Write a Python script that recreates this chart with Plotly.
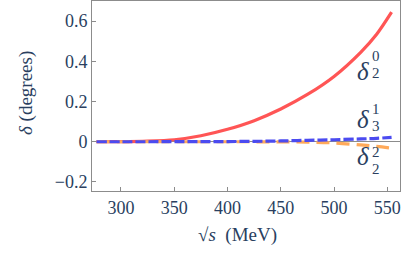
import plotly.graph_objects as go

energy = [277, 300, 325, 350, 375, 400, 425, 450, 475, 500, 525, 540, 554]
delta20 = [0.0, 0.0005, 0.003, 0.010, 0.030, 0.062, 0.105, 0.163, 0.235, 0.325, 0.445, 0.535, 0.645]
delta31 = [0.0, 0.0, 0.0, 0.0003, 0.0006, 0.001, 0.002, 0.004, 0.007, 0.010, 0.014, 0.017, 0.022]
delta22 = [0.0, 0.0, 0.0, 0.0, 0.0, 0.0, -0.0002, -0.0006, -0.002, -0.006, -0.016, -0.023, -0.032]

xticks = [300, 350, 400, 450, 500, 550]
yticks = [-0.2, 0, 0.2, 0.4, 0.6]
yticktext = ["\u22120.2", "0", "0.2", "0.4", "0.6"]

FONT = "serif"
GRAY = "#8c8c8c"

fig = go.Figure()
fig.add_trace(go.Scatter(x=energy, y=delta20, mode="lines", line=dict(color="rgb(255,85,85)", width=3.2, shape="spline", smoothing=0.8), hoverinfo="skip"))
fig.add_trace(go.Scatter(x=energy, y=delta22, mode="lines", line=dict(color="rgb(255,170,90)", width=3.2, dash="13px,7px", shape="spline"), hoverinfo="skip"))
fig.add_trace(go.Scatter(x=energy, y=delta31, mode="lines", line=dict(color="rgb(75,75,240)", width=3.2, dash="10px,3px", shape="spline"), hoverinfo="skip"))

fig.update_layout(
    width=407, height=266,
    margin=dict(l=92, r=7, t=1, b=75),
    paper_bgcolor="white", plot_bgcolor="white",
    showlegend=False,
    xaxis=dict(range=[272.8, 561.9], tickvals=xticks, ticks="inside", ticklen=4, tickcolor=GRAY,
               showline=True, linecolor=GRAY, linewidth=1, mirror=True, showgrid=False, zeroline=False,
               automargin=False, tickfont=dict(family=FONT, size=18)),
    yaxis=dict(range=[-0.245, 0.7], tickvals=yticks, ticktext=yticktext, ticks="inside", ticklen=4, tickcolor=GRAY,
               showline=True, linecolor=GRAY, linewidth=1, mirror=True, showgrid=False,
               zeroline=True, zerolinecolor=GRAY, zerolinewidth=1,
               automargin=False, tickfont=dict(family=FONT, size=18)),
)

def px2paper(px, py):
    return (px - 92) / (400 - 92), 1 - (py - 1) / (191 - 1)

def lab(px, py, text, size, **kw):
    x, y = px2paper(px, py)
    fig.add_annotation(x=x, y=y, xref="paper", yref="paper", text=text, showarrow=False,
                       font=dict(family=FONT, size=size), **kw)

# axis titles
lab(13, 93, "<i>δ</i> (degrees)", 19, textangle=-90)
lab(237, 248, "\u221a<i>s</i>  (MeV)", 19)

# curve labels
for py, sup, sub in [(56, "0", "2"), (119, "1", "3"), (172, "2", "2")]:
    lab(371, py, "<i>δ</i>", 25)
    lab(382, py - 10, sup, 15)
    lab(382, py + 7, sub, 15)

fig.write_html("out.html", config={"displayModeBar": False},
               post_script="document.body.style.margin='0';")
